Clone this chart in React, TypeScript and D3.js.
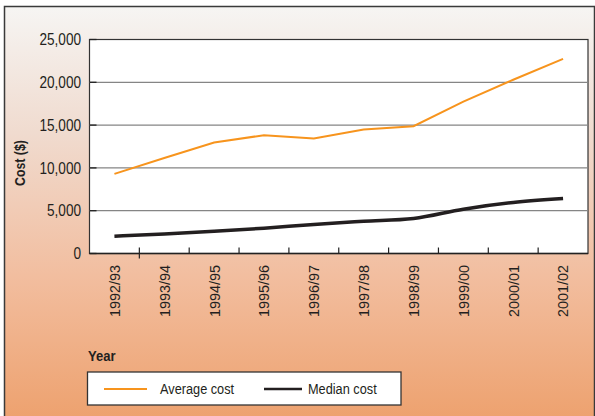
import React, { useEffect, useRef } from "react";
import * as d3 from "d3";

const years = [
  "1992/93", "1993/94", "1994/95", "1995/96", "1996/97",
  "1997/98", "1998/99", "1999/00", "2000/01", "2001/02",
];
const averageCost = [9300, 11150, 12970, 13820, 13430, 14490, 14870, 17750, 20300, 22730];
const medianCost = [2020, 2290, 2600, 2960, 3400, 3760, 4090, 5180, 5960, 6420];
const yTicks = [0, 5000, 10000, 15000, 20000, 25000];
const legendItems = ["Average cost", "Median cost"];

const font = "'Liberation Sans', Arial, sans-serif";
const ink = "#231f20";

const App = () => {
  const svgRef = useRef<SVGSVGElement | null>(null);

  useEffect(() => {
    const width = 595;
    const height = 416;
    const plot = { left: 89.5, right: 588, top: 39.5, bottom: 253.5 };

    const svg = d3.select(svgRef.current);
    svg.selectAll("*").remove();
    svg.attr("width", width).attr("height", height);

    // background gradient
    const grad = svg
      .append("defs")
      .append("linearGradient")
      .attr("id", "bg")
      .attr("x1", 0).attr("y1", 0).attr("x2", 0).attr("y2", 1);
    grad.append("stop").attr("offset", "0%").attr("stop-color", "#f6f5f3");
    grad.append("stop").attr("offset", "30%").attr("stop-color", "#f0dbcf");
    grad.append("stop").attr("offset", "65%").attr("stop-color", "#f2bd9e");
    grad.append("stop").attr("offset", "100%").attr("stop-color", "#eda06c");

    svg.append("rect").attr("width", width).attr("height", height).attr("fill", "#fff");
    svg
      .append("rect")
      .attr("x", 4.5).attr("y", 6.5)
      .attr("width", 590).attr("height", 420)
      .attr("fill", "url(#bg)")
      .attr("stroke", "#3a3a3a")
      .attr("stroke-width", 1.5);

    const x = d3.scalePoint<string>().domain(years).range([plot.left, plot.right]).padding(0.5);
    const y = d3.scaleLinear().domain([0, 25000]).range([plot.bottom, plot.top]);
    const step = x.step();

    // plot area
    svg
      .append("rect")
      .attr("x", plot.left).attr("y", plot.top)
      .attr("width", plot.right - plot.left).attr("height", plot.bottom - plot.top)
      .attr("fill", "#fff")
      .attr("stroke", "#333")
      .attr("stroke-width", 1.2);

    // gridlines
    svg
      .append("g")
      .selectAll("line")
      .data(yTicks.filter((d) => d > 0 && d < 25000))
      .enter()
      .append("line")
      .attr("x1", plot.left).attr("x2", plot.right)
      .attr("y1", (d) => y(d)).attr("y2", (d) => y(d))
      .attr("stroke", "#858585")
      .attr("stroke-width", 1.3);

    // y ticks (inward)
    svg
      .append("g")
      .selectAll("line")
      .data(yTicks)
      .enter()
      .append("line")
      .attr("x1", plot.left).attr("x2", plot.left + 7)
      .attr("y1", (d) => y(d)).attr("y2", (d) => y(d))
      .attr("stroke", "#222")
      .attr("stroke-width", 1.3);

    // x ticks between categories
    svg
      .append("g")
      .selectAll("line")
      .data(years.slice(1))
      .enter()
      .append("line")
      .attr("x1", (d) => (x(d) as number) - step / 2)
      .attr("x2", (d) => (x(d) as number) - step / 2)
      .attr("y1", plot.bottom - 6)
      .attr("y2", (d, i) => (i === 0 ? plot.bottom + 5 : plot.bottom))
      .attr("stroke", "#222")
      .attr("stroke-width", 1.2);

    svg
      .append("line")
      .attr("x1", plot.left).attr("x2", plot.right)
      .attr("y1", plot.bottom).attr("y2", plot.bottom)
      .attr("stroke", "#222").attr("stroke-width", 1.5);

    // y labels (narrow look via horizontal squeeze)
    svg
      .append("g")
      .selectAll("text")
      .data(yTicks)
      .enter()
      .append("text")
      .attr("transform", (d) => `translate(81,${y(d)}) scale(0.85,1)`)
      .attr("dy", "0.36em")
      .attr("text-anchor", "end")
      .attr("fill", ink)
      .style("font-size", "16px")
      .style("font-family", font)
      .text((d) => d3.format(",")(d));

    // x labels
    svg
      .append("g")
      .selectAll("text")
      .data(years)
      .enter()
      .append("text")
      .attr("transform", (d) => `translate(${x(d) as number},265) rotate(-90) scale(0.96,1)`)
      .attr("dy", "0.36em")
      .attr("text-anchor", "end")
      .attr("fill", ink)
      .style("font-size", "15px")
      .style("font-family", font)
      .text((d) => d);

    // axis titles
    svg
      .append("text")
      .attr("transform", "translate(20,163) rotate(-90) scale(0.88,1)")
      .attr("dy", "0.36em")
      .attr("text-anchor", "middle")
      .attr("fill", ink)
      .style("font-size", "14px")
      .style("font-weight", "bold")
      .style("font-family", font)
      .text("Cost ($)");

    svg
      .append("text")
      .attr("transform", "translate(88,361) scale(0.87,1)")
      .attr("fill", ink)
      .style("font-size", "15px")
      .style("font-weight", "bold")
      .style("font-family", font)
      .text("Year");

    // lines
    const avgLine = d3
      .line<number>()
      .x((_, i) => x(years[i]) as number)
      .y((d) => y(d));
    const medLine = d3
      .line<number>()
      .x((_, i) => x(years[i]) as number)
      .y((d) => y(d))
      .curve(d3.curveMonotoneX);

    svg
      .append("path")
      .datum(averageCost)
      .attr("d", avgLine)
      .attr("fill", "none")
      .attr("stroke", "#f7941d")
      .attr("stroke-width", 2);

    svg
      .append("path")
      .datum(medianCost)
      .attr("d", medLine)
      .attr("fill", "none")
      .attr("stroke", ink)
      .attr("stroke-width", 3.5);

    // legend
    const legend = svg.append("g");
    legend
      .append("rect")
      .attr("x", 87.5).attr("y", 372)
      .attr("width", 313.5).attr("height", 33)
      .attr("fill", "#fff")
      .attr("stroke", "#333")
      .attr("stroke-width", 1.3);

    const swatches = [
      { color: "#f7941d", w: 2, x0: 104, x1: 147, tx: 160 },
      { color: ink, w: 2.5, x0: 264, x1: 302, tx: 308 },
    ];
    legendItems.forEach((label, i) => {
      const it = swatches[i];
      legend
        .append("line")
        .attr("x1", it.x0).attr("x2", it.x1)
        .attr("y1", 389).attr("y2", 389)
        .attr("stroke", it.color)
        .attr("stroke-width", it.w);
      legend
        .append("text")
        .attr("transform", `translate(${it.tx},389) scale(0.85,1)`)
        .attr("dy", "0.36em")
        .attr("fill", ink)
        .style("font-size", "15px")
        .style("font-family", font)
        .text(label);
    });
  }, []);

  return (
    <svg
      ref={svgRef}
      style={{ position: "absolute", left: 0, top: 0, display: "block" }}
    ></svg>
  );
};

export default App;
